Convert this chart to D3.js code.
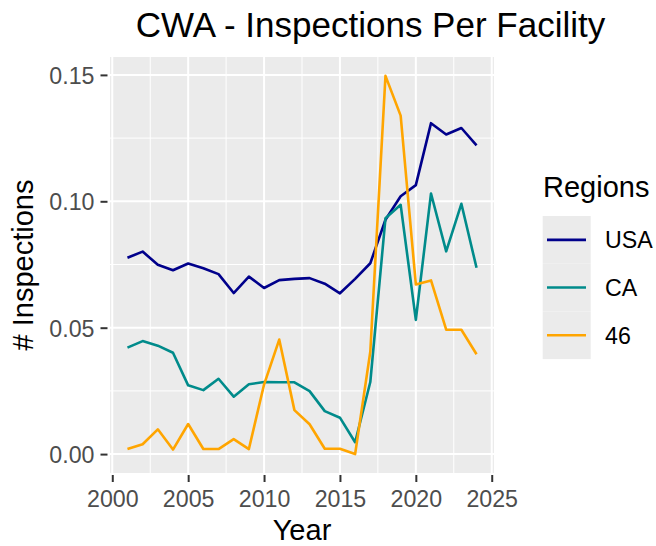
<!DOCTYPE html>
<html>
<head>
<meta charset="utf-8">
<script src="https://cdn.jsdelivr.net/npm/d3@7"></script>
<style>
  html, body { margin: 0; padding: 0; background: #ffffff; }
  svg { display: block; font-family: "Liberation Sans", Arial, sans-serif; }
</style>
</head>
<body>
<svg id="chart" width="656" height="546"></svg>
<script>
const years = [2001,2002,2003,2004,2005,2006,2007,2008,2009,2010,2011,2012,2013,2014,2015,2016,2017,2018,2019,2020,2021,2022,2023,2024];
const usa = [0.0777,0.0801,0.0749,0.0727,0.0754,0.0735,0.0712,0.0637,0.0702,0.0657,0.0688,0.0693,0.0696,0.0674,0.0636,0.0693,0.0755,0.0927,0.1020,0.1064,0.1309,0.1264,0.1290,0.1221];
const ca = [0.0421,0.0447,0.0429,0.0401,0.0272,0.0253,0.0298,0.0227,0.0276,0.0285,0.0284,0.0284,0.0249,0.0170,0.0144,0.0047,0.0285,0.0933,0.0986,0.0531,0.1031,0.0802,0.0990,0.0737];
const r46 = [0.0020,0.0039,0.0098,0.0018,0.0119,0.0020,0.0020,0.0059,0.0020,0.0275,0.0453,0.0174,0.0118,0.0021,0.0021,0.0000,0.0405,0.1496,0.1339,0.0671,0.0687,0.0492,0.0492,0.0395];
const seriesNames = ["USA","CA","46"];
const seriesColors = ["#00008B","#008B8B","#FFA500"];
const xTicks = [2000,2005,2010,2015,2020,2025];
const yTicks = [0.00,0.05,0.10,0.15];
const xMinor = [2002.5,2007.5,2012.5,2017.5,2022.5];
const yMinor = [0.025,0.075,0.125];

const svg = d3.select("#chart");
const P = {left:110, right:494, top:57, bottom:473};

const xData = d3.extent(years);
const xPad = (xData[1]-xData[0])*0.05;
const yMax = d3.max([...usa, ...ca, ...r46]);
const yPad = yMax*0.05;
const x = d3.scaleLinear().domain([xData[0]-xPad, xData[1]+xPad]).range([P.left, P.right]);
const y = d3.scaleLinear().domain([0-yPad, yMax+yPad]).range([P.bottom, P.top]);

// panel
svg.append("rect").attr("x",P.left).attr("y",P.top)
  .attr("width",P.right-P.left).attr("height",P.bottom-P.top).attr("fill","#EBEBEB");

const grid = svg.append("g");
grid.selectAll(".xm").data(xMinor).enter().append("line")
  .attr("x1",d=>x(d)).attr("x2",d=>x(d)).attr("y1",P.top).attr("y2",P.bottom)
  .attr("stroke","#fff").attr("stroke-width",1);
grid.selectAll(".ym").data(yMinor).enter().append("line")
  .attr("y1",d=>y(d)).attr("y2",d=>y(d)).attr("x1",P.left).attr("x2",P.right)
  .attr("stroke","#fff").attr("stroke-width",1);
grid.selectAll(".xM").data(xTicks).enter().append("line")
  .attr("x1",d=>x(d)).attr("x2",d=>x(d)).attr("y1",P.top).attr("y2",P.bottom)
  .attr("stroke","#fff").attr("stroke-width",2);
grid.selectAll(".yM").data(yTicks).enter().append("line")
  .attr("y1",d=>y(d)).attr("y2",d=>y(d)).attr("x1",P.left).attr("x2",P.right)
  .attr("stroke","#fff").attr("stroke-width",2);

// lines
const allSeries = [usa, ca, r46];
const line = d3.line().x((d,i)=>x(years[i])).y(d=>y(d));
allSeries.forEach((s,k)=>{
  svg.append("path").datum(s).attr("d",line).attr("fill","none")
    .attr("stroke",seriesColors[k]).attr("stroke-width",2.6)
    .attr("stroke-linejoin","round").attr("stroke-linecap","butt");
});

// axes
const xAxis = d3.axisBottom(x).tickValues(xTicks).tickFormat(d3.format("d")).tickSize(7).tickPadding(9);
const gx = svg.append("g").attr("transform",`translate(0,${P.bottom+2})`).call(xAxis);
gx.select(".domain").remove();
gx.selectAll(".tick line").attr("stroke","#333333").attr("stroke-width",2);
gx.selectAll(".tick text").attr("fill","#4D4D4D").style("font-size","23.2px").attr("dy","0.71em");

const yAxis = d3.axisLeft(y).tickValues(yTicks).tickFormat(d3.format(".2f")).tickSize(7).tickPadding(6);
const gy = svg.append("g").attr("transform",`translate(${P.left-2.5},0)`).call(yAxis);
gy.select(".domain").remove();
gy.selectAll(".tick line").attr("stroke","#333333").attr("stroke-width",2);
gy.selectAll(".tick text").attr("fill","#4D4D4D").style("font-size","23.2px").attr("dy","0.36em");

// titles
svg.append("text").attr("x",370.5).attr("y",37).attr("text-anchor","middle")
  .style("font-size","35px").attr("fill","#000").text("CWA - Inspections Per Facility");
svg.append("text").attr("x",(P.left+P.right)/2).attr("y",540).attr("text-anchor","middle")
  .style("font-size","29px").attr("fill","#000").text("Year");
svg.append("text").attr("transform",`translate(33,${(P.top+P.bottom)/2}) rotate(-90)`)
  .attr("text-anchor","middle").style("font-size","29px").attr("fill","#000").text("# Inspections");

// legend
const lg = svg.append("g");
lg.append("text").attr("x",543).attr("y",197).style("font-size","29px").attr("fill","#000").text("Regions");
const keyH = 47.7, keyTop = 216;
seriesNames.forEach((n,i)=>{
  lg.append("rect").attr("x",542.7).attr("y",keyTop+i*keyH).attr("width",48).attr("height",keyH).attr("fill","#EBEBEB");
});
seriesNames.forEach((n,i)=>{
  const cy = keyTop + i*keyH + keyH/2;
  lg.append("line").attr("x1",547).attr("x2",586).attr("y1",cy).attr("y2",cy)
    .attr("stroke",seriesColors[i]).attr("stroke-width",2.6);
  lg.append("text").attr("x",605).attr("y",cy).attr("dy","0.36em")
    .style("font-size","23.2px").attr("fill","#000").text(n);
});
</script>
</body>
</html>
